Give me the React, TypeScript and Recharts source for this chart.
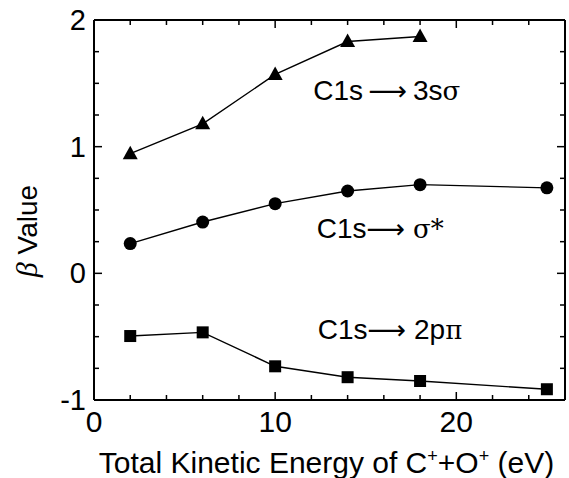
import React from 'react';
import { LineChart, Line, XAxis, YAxis, ReferenceDot } from 'recharts';

// total kinetic energy (eV)
const energies = [2, 6, 10, 14, 18, 25];
// beta values per resonance
const beta3sSigma = [0.945, 1.18, 1.57, 1.83, 1.87, null];
const betaSigmaStar = [0.235, 0.405, 0.55, 0.65, 0.70, 0.675];
const beta2pPi = [-0.495, -0.466, -0.734, -0.82, -0.85, -0.915];

const xTicks = [0, 2, 4, 6, 8, 10, 12, 14, 16, 18, 20, 22, 24, 26];
const xMajor = [0, 10, 20];
const yTicks = [-1, -0.75, -0.5, -0.25, 0, 0.25, 0.5, 0.75, 1, 1.25, 1.5, 1.75, 2];
const yMajor = [-1, 0, 1, 2];

// annotation text, anchored in data coordinates (start, baseline)
const notes = [
  { x: 12.1, y: 1.37, pre: 'C1s\u2009', post: '\u20093s', greek: '\u03c3' },
  { x: 12.3, y: 0.277, pre: 'C1s', post: ' ', greek: '\u03c3*' },
  { x: 12.35, y: -0.52, pre: 'C1s', post: ' 2p', greek: '\u03c0' },
];

const FONT = '"Liberation Sans", Arial, sans-serif';

const CHART_W = 569;
const CHART_H = 478;
const MARGIN_TOP = 19;
const TOP_AXIS_H = 1;
const X_AXIS_H = 78;
// height of the plotting box, used to mirror the bottom ticks from the top axis
const PLOT_H = CHART_H - MARGIN_TOP - TOP_AXIS_H - X_AXIS_H;

const rows = energies.map((e, i) => ({
  e,
  s3: beta3sSigma[i],
  sig: betaSigmaStar[i],
  p2: beta2pPi[i],
}));

const Triangle = (props: any) => {
  const { cx, cy, value } = props;
  if (value == null || cy == null) return <g key={props.index} />;
  return (
    <path
      key={props.index}
      d={`M${cx},${cy - 8} L${cx + 7.5},${cy + 5.5} L${cx - 7.5},${cy + 5.5} Z`}
      fill="#000"
    />
  );
};

const Circle = (props: any) => {
  const { cx, cy } = props;
  if (cy == null) return <g key={props.index} />;
  return <circle key={props.index} cx={cx} cy={cy} r={6.5} fill="#000" />;
};

const Square = (props: any) => {
  const { cx, cy } = props;
  if (cy == null) return <g key={props.index} />;
  return <rect key={props.index} x={cx - 6} y={cy - 6} width={12} height={12} fill="#000" />;
};

// bottom axis: labels only (its tick marks get clipped, so they are drawn from the top axis)
const BottomTick = (props: any) => {
  const { x, y, payload } = props;
  if (!xMajor.includes(payload.value)) return <g />;
  return (
    <text x={x} y={y + 32} textAnchor="middle" fontSize={30} fontFamily={FONT} fill="#000">
      {payload.value}
    </text>
  );
};

// inward tick marks on both the top and the bottom edge
const TopTick = (props: any) => {
  const { x, y, payload } = props;
  const len = xMajor.includes(payload.value) ? 8 : 5;
  const yb = y + PLOT_H;
  return (
    <path d={`M${x},${y}V${y + len}M${x},${yb}V${yb - len}`} stroke="#000" strokeWidth={1.5} fill="none" />
  );
};

const LeftTick = (props: any) => {
  const { x, y, payload } = props;
  const major = yMajor.includes(payload.value);
  return (
    <g>
      <path d={`M${x},${y}H${x + (major ? 8 : 5)}`} stroke="#000" strokeWidth={1.5} fill="none" />
      {major && (
        <text x={x - 8} y={y + 10} textAnchor="end" fontSize={29} fontFamily={FONT} fill="#000">
          {payload.value}
        </text>
      )}
    </g>
  );
};

const RightTick = (props: any) => {
  const { x, y, payload } = props;
  const major = yMajor.includes(payload.value);
  return <path d={`M${x},${y}H${x - (major ? 8 : 5)}`} stroke="#000" strokeWidth={1.5} fill="none" />;
};

const XTitle = (props: any) => {
  const vb = props.viewBox;
  return (
    <text x={vb.x + vb.width / 2 - 3} y={vb.y + 73} textAnchor="middle" fontSize={30} fontFamily={FONT} fill="#000">
      Total Kinetic Energy of C
      <tspan fontSize={18} dy={-11}>+</tspan>
      <tspan dy={11}>+O</tspan>
      <tspan fontSize={18} dy={-11}>+</tspan>
      <tspan dy={11}> (eV)</tspan>
    </text>
  );
};

const YTitle = (props: any) => {
  const vb = props.viewBox;
  const cx = vb.x + 37;
  const cy = vb.y + vb.height / 2 + 21;
  return (
    <text
      x={cx}
      y={cy}
      transform={`rotate(-90, ${cx}, ${cy})`}
      textAnchor="middle"
      fontSize={28}
      fontFamily={FONT}
      fill="#000"
    >
      <tspan fontStyle="italic" fontFamily='"Liberation Serif", serif' fontSize={30}>{'\u03b2'}</tspan>
      <tspan> Value</tspan>
    </text>
  );
};

const NoteLabel = (note: (typeof notes)[number]) => (props: any) => {
  const vb = props.viewBox;
  return (
    <text x={vb.x} y={vb.y} fontSize={28} fontFamily={FONT} fill="#000">
      {note.pre}
      <tspan fontFamily='"DejaVu Sans", sans-serif' fontSize={27}>{'\u27f6'}</tspan>
      {note.post}
      <tspan fontFamily='"DejaVu Serif", serif' fontSize={26}>{note.greek}</tspan>
    </text>
  );
};

export default function App() {
  return (
    <div style={{ position: 'absolute', left: 0, top: 0, width: CHART_W, height: CHART_H, background: '#fff' }}>
      <LineChart width={CHART_W} height={CHART_H} data={rows} margin={{ top: MARGIN_TOP, right: 3, bottom: 0, left: 0 }}>
        <XAxis
          dataKey="e"
          type="number"
          domain={[0, 26]}
          ticks={xTicks}
          interval={0}
          height={X_AXIS_H}
          tickSize={0}
          tickMargin={0}
          tickLine={false}
          axisLine={{ stroke: '#000', strokeWidth: 2 }}
          tick={<BottomTick />}
          label={<XTitle />}
          allowDataOverflow
        />
        <XAxis
          xAxisId="top"
          orientation="top"
          dataKey="e"
          type="number"
          domain={[0, 26]}
          ticks={xTicks}
          interval={0}
          height={TOP_AXIS_H}
          tickSize={0}
          tickMargin={0}
          tickLine={false}
          axisLine={{ stroke: '#000', strokeWidth: 2 }}
          tick={<TopTick />}
          allowDataOverflow
        />
        <YAxis
          type="number"
          domain={[-1, 2]}
          ticks={yTicks}
          interval={0}
          width={94}
          tickSize={0}
          tickMargin={0}
          tickLine={false}
          axisLine={{ stroke: '#000', strokeWidth: 2 }}
          tick={<LeftTick />}
          label={<YTitle />}
          allowDataOverflow
        />
        <YAxis
          yAxisId="right"
          orientation="right"
          type="number"
          domain={[-1, 2]}
          ticks={yTicks}
          interval={0}
          width={1}
          tickSize={0}
          tickMargin={0}
          tickLine={false}
          axisLine={{ stroke: '#000', strokeWidth: 2 }}
          tick={<RightTick />}
          allowDataOverflow
        />
        {/* invisible series so the mirrored frame axes get drawn */}
        <Line xAxisId="top" yAxisId="right" dataKey="sig" stroke="none" dot={false} isAnimationActive={false} legendType="none" />
        <Line dataKey="s3" stroke="#000" strokeWidth={1.4} dot={Triangle} isAnimationActive={false} />
        <Line dataKey="sig" stroke="#000" strokeWidth={1.4} dot={Circle} isAnimationActive={false} />
        <Line dataKey="p2" stroke="#000" strokeWidth={1.4} dot={Square} isAnimationActive={false} />
        {notes.map((n) => (
          <ReferenceDot key={n.pre + n.greek} x={n.x} y={n.y} r={0} stroke="none" fill="none" label={NoteLabel(n)} />
        ))}
      </LineChart>
    </div>
  );
}
